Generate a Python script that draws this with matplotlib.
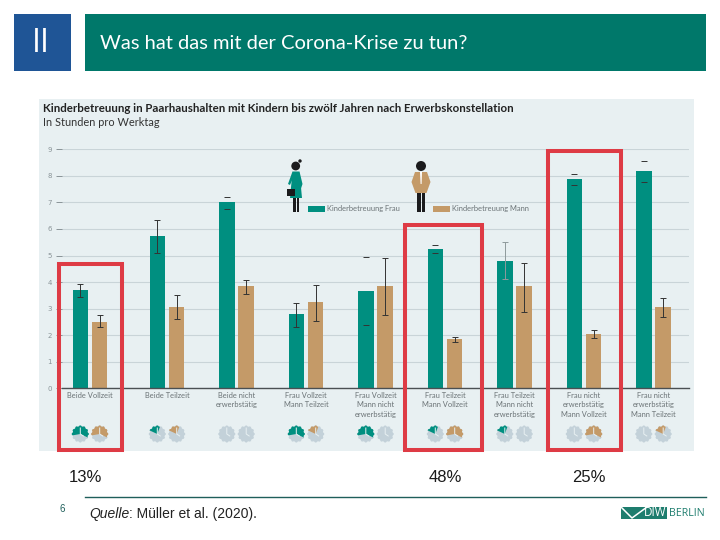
import numpy as np
import matplotlib
matplotlib.use("Agg")
import matplotlib.pyplot as plt
from matplotlib.patches import Rectangle, Polygon, Circle

# values (hours per working day)
labels = ['Beide Vollzeit', 'Beide Teilzeit', 'Beide nicht\nerwerbstätig',
          'Frau Vollzeit\nMann Teilzeit', 'Frau Vollzeit\nMann nicht\nerwerbstätig',
          'Frau Teilzeit\nMann Vollzeit', 'Frau Teilzeit\nMann nicht\nerwerbstätig',
          'Frau nicht\nerwerbstätig\nMann Vollzeit', 'Frau nicht\nerwerbstätig\nMann Teilzeit']
frau = [3.7, 5.75, 7.0, 2.8, 3.65, 5.25, 4.8, 7.9, 8.2]
frau_low = [3.44, 5.1, 6.75, 2.3, 2.38, 5.1, 4.1, 7.66, 7.78]
frau_high = [3.92, 6.33, 7.2, 3.2, 4.93, 5.4, 5.5, 8.08, 8.57]
mann = [2.5, 3.05, 3.85, 3.25, 3.85, 1.85, 3.85, 2.05, 3.05]
mann_low = [2.3, 2.6, 3.54, 2.55, 2.76, 1.75, 2.86, 1.9, 2.68]
mann_high = [2.76, 3.5, 4.07, 3.9, 4.9, 1.95, 4.7, 2.2, 3.4]
yticks = list(range(10))
# work status shown by the clock icons: V = Vollzeit, T = Teilzeit, N = nicht erwerbstaetig
status_frau = ['V', 'T', 'N', 'V', 'V', 'T', 'T', 'N', 'N']
status_mann = ['V', 'T', 'N', 'T', 'N', 'V', 'N', 'V', 'T']
shares = ['13%', '48%', '25%']

TEAL = '#008F80'
TAN = '#C49A68'
GREY = '#C3D1D9'
PANEL = '#E8F0F2'
RED = '#DE3B45'

fig = plt.figure(figsize=(7.2, 5.4), dpi=100)

# overlay in pixel coordinates for the slide furniture
bg = fig.add_axes([0, 0, 1, 1])
bg.set_xlim(0, 720)
bg.set_ylim(540, 0)
bg.axis('off')

bg.add_patch(Rectangle((14, 14), 57, 57, fc='#1F5596', ec='none'))
bg.add_patch(Rectangle((85, 14), 621, 57, fc='#00786A', ec='none'))
bg.add_patch(Rectangle((39, 99), 655, 352, fc=PANEL, ec='none'))
bg.text(41, 43, 'II', color='white', fontsize=23, family='Open Sans', ha='center', va='center')
bg.text(100, 43.5, 'Was hat das mit der Corona-Krise zu tun?', color='white', fontsize=14.5,
        family='Lato', ha='left', va='center')
bg.text(43, 108, 'Kinderbetreuung in Paarhaushalten mit Kindern bis zwölf Jahren nach Erwerbskonstellation',
        color='#222222', fontsize=8.3, family='Lato', weight='bold', ha='left', va='center')
bg.text(43, 122.5, 'In Stunden pro Werktag', color='#333333', fontsize=7.95, family='Lato', ha='left', va='center')

# chart itself
ax = fig.add_axes([62 / 720, 1 - 388.3 / 540, (689 - 62) / 720, (388.3 - 149.3) / 540])
ax.patch.set_alpha(0)
x_pos = np.array([-0.108, 1, 2, 3, 4, 5, 6, 7, 8])
off = 0.137
w = 0.223
ax.bar(x_pos - off, frau, w, color=TEAL, zorder=2)
ax.bar(x_pos + off, mann, w, color=TAN, zorder=2)

# whiskers, some of the Frau ones hardly show in the original
frau_line = ['#333333', '#333333', None, '#333333', None, None, '#8F9A9C', None, None]
for i in range(9):
    ax.errorbar(x_pos[i] - off, frau[i], yerr=[[frau[i] - frau_low[i]], [frau_high[i] - frau[i]]], fmt='none',
                ecolor=frau_line[i] or '#333333', elinewidth=0.7 if frau_line[i] else 0, capsize=2.2,
                capthick=0.7, zorder=3)
    ax.errorbar(x_pos[i] + off, mann[i], yerr=[[mann[i] - mann_low[i]], [mann_high[i] - mann[i]]], fmt='none',
                ecolor='#333333', elinewidth=0.7, capsize=2.2, capthick=0.7, zorder=3)

ax.set_xlim(-0.511, 8.511)
ax.set_ylim(0, 9)
ax.set_yticks(yticks)
ax.set_xticks(x_pos)
ax.set_xticklabels(labels, fontsize=5.4, family='Lato', color='#6B7376', linespacing=1.45)
ax.tick_params(axis='x', length=0, pad=2.5)
ax.tick_params(axis='y', length=4.5, width=0.7, color='#8A9498', labelsize=5, labelcolor='#8A9498', pad=3)
ax.grid(axis='y', color='#C9D4D8', linewidth=0.8, zorder=1)
for s in ['top', 'right', 'left']:
    ax.spines[s].set_visible(False)
ax.spines['bottom'].set_color('#4A4F52')
ax.spines['bottom'].set_linewidth(1.0)
ax.spines['bottom'].set_zorder(4)


def px(x):
    return 167 + (x - 1) * 69.5


# legend, placed between the bars as in the original
fg = fig.add_axes([0, 0, 1, 1])
fg.set_xlim(0, 720)
fg.set_ylim(540, 0)
fg.axis('off')
fg.add_patch(Rectangle((308, 206), 17, 6, fc=TEAL, ec='none'))
fg.text(327, 209, 'Kinderbetreuung Frau', fontsize=5.4, family='Lato', color='#6B7376', va='center')
fg.add_patch(Rectangle((433, 206), 17, 6, fc=TAN, ec='none'))
fg.text(452, 209, 'Kinderbetreuung Mann', fontsize=5.4, family='Lato', color='#6B7376', va='center')

# woman
DARK = '#1B1B1D'
fg.add_patch(Rectangle((293, 192), 2.6, 20, fc=DARK, ec='none'))
fg.add_patch(Rectangle((296.8, 192), 2.6, 20, fc=DARK, ec='none'))
fg.add_patch(Polygon([(292.5, 171.5), (299.5, 171.5), (302, 198), (290, 198)], fc=TEAL, ec='none'))
fg.add_patch(Polygon([(292.5, 171.5), (288, 184), (290, 185), (294, 176)], fc=TEAL, ec='none'))
fg.add_patch(Polygon([(299.5, 171.5), (302.5, 184), (300.5, 190), (298.5, 176)], fc=TEAL, ec='none'))
fg.add_patch(Circle((295.7, 166), 4.4, fc=DARK, ec='none'))
fg.add_patch(Circle((300, 161), 1.7, fc=DARK, ec='none'))
fg.add_patch(Rectangle((287, 189), 8, 7, fc=DARK, ec='none'))

# man
fg.add_patch(Rectangle((417, 190), 3.6, 22, fc=DARK, ec='none'))
fg.add_patch(Rectangle((421.6, 190), 3.6, 22, fc=DARK, ec='none'))
fg.add_patch(Polygon([(415, 172), (427, 172), (430.5, 182), (426.5, 193), (415.5, 193), (411.5, 182)],
                     fc=TAN, ec='none'))
fg.add_patch(Polygon([(420, 172), (422, 172), (421.6, 184), (420.6, 184)], fc='white', ec='none'))
fg.add_patch(Circle((421, 166), 5, fc=DARK, ec='none'))

# clock icons
arcs = {'V': (-100, 115), 'T': (-65, 20), 'N': None}


def clock(cx, cy, status, color):
    r = 8.5
    ang = np.radians(np.arange(0, 360, 5))
    teeth = r - 0.8 * (np.cos(12 * ang) < -0.3)
    fg.add_patch(Polygon(np.c_[cx + teeth * np.sin(ang), cy - teeth * np.cos(ang)], fc=GREY, ec='none'))
    if arcs[status] is not None:
        a0, a1 = arcs[status]
        ang = np.radians(np.arange(a0, a1 + 1, 5))
        teeth = r - 0.8 * (np.cos(12 * ang) < -0.3)
        pts = np.c_[cx + teeth * np.sin(ang), cy - teeth * np.cos(ang)]
        fg.add_patch(Polygon(np.vstack([[cx, cy], pts]), fc=color, ec='none'))
    fg.plot([cx, cx, cx + 3], [cy - 6, cy, cy + 2], color='#E8F0F2', lw=0.7)


for i in range(9):
    clock(px(x_pos[i]) - 9.7, 434, status_frau[i], TEAL)
    clock(px(x_pos[i]) + 9.7, 434, status_mann[i], TAN)

# red frames
for x0, x1, y0 in [(59, 122, 264), (405, 482, 225), (548, 621, 151)]:
    fg.add_patch(Rectangle((x0, y0), x1 - x0, 450 - y0, fc='none', ec=RED, lw=2.9))

# shares below the highlighted groups
share_x = [85, 445, 589]
for sx, s in zip(share_x, shares):
    fg.text(sx, 478, s, fontsize=12, family='Liberation Sans', color='#1A1A1A', ha='center', va='center')

# footer
fg.plot([85, 706], [496.5, 496.5], color='#1F5F5B', lw=1.0)
fg.text(62, 509, '6', fontsize=7, family='Liberation Sans', color='#1F5F5B', ha='center', va='center')
q = fg.text(89, 514, 'Quelle', fontsize=10, family='Liberation Sans', style='italic', color='#222222', va='center')
q_end = q.get_window_extent(fig.canvas.get_renderer()).x1
fg.text(q_end, 514, ': Müller et al. (2020).', fontsize=10, family='Liberation Sans', color='#222222', va='center')
fg.add_patch(Rectangle((621, 507), 46, 11.5, fc='#1E7D6E', ec='none'))
fg.plot([621, 632, 647], [507, 518, 507], color='white', lw=1.1)
fg.text(666.5, 513, 'DIW', fontsize=8.4, family='Open Sans', color='white', ha='right', va='center')
fg.text(668.5, 513, 'BERLIN', fontsize=7.7, family='Open Sans', color='#1E7D6E', ha='left', va='center')

fig.savefig('out.png', dpi=100)
